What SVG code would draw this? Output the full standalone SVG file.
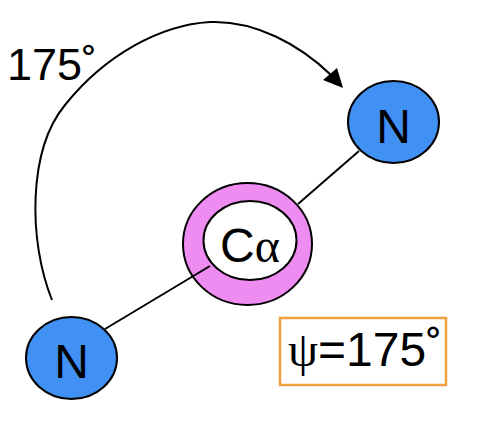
<svg xmlns="http://www.w3.org/2000/svg" width="478" height="428" viewBox="0 0 478 428">
<style>
.atom{fill:#4191f5;stroke:#000;stroke-width:2}
.lbl{font-family:"Liberation Sans",Arial,sans-serif;font-size:48px;fill:#000}
.greek{font-family:"Liberation Serif","Times New Roman",serif}
.bond{stroke:#000;stroke-width:2;fill:none}
</style>
<rect width="478" height="428" fill="#fff"/>
<g id="ca">
<ellipse cx="247.5" cy="244" rx="64.5" ry="61" fill="#ee8cf2" stroke="#000" stroke-width="2"/>
<ellipse cx="250" cy="240.5" rx="46.5" ry="39.5" fill="#fff" stroke="#000" stroke-width="2"/>
<text class="lbl" x="250" y="262" text-anchor="middle">C<tspan class="greek">α</tspan></text>
</g>
<g id="n_top">
<ellipse class="atom" cx="393.5" cy="122" rx="45.5" ry="41"/>
<text class="lbl" x="393.5" y="143" text-anchor="middle">N</text>
</g>
<g id="n_bottom">
<ellipse class="atom" cx="71.5" cy="358" rx="45.5" ry="41"/>
<text class="lbl" x="71.5" y="378" text-anchor="middle">N</text>
</g>
<g id="connectors">
<line class="bond" x1="359" y1="151" x2="298" y2="204"/>
<line class="bond" x1="105" y1="329" x2="210" y2="266"/>
<path class="bond" d="M52,300 C28,240 28,150 65,105 C105,55 160,25 210,22 C255,20 300,45 331,75"/>
<polygon points="323,80 337,68 343,88" fill="#000"/>
</g>
<g id="angle_label">
<text class="lbl" x="7" y="80" font-size="45" style="font-size:45px">175˚</text>
</g>
<g id="psi_box">
<rect x="280" y="318" width="166" height="67" fill="#fff" stroke="#f0a040" stroke-width="2.5"/>
<text class="lbl" x="288" y="366"><tspan class="greek">ψ</tspan>=175˚</text>
</g>
</svg>
